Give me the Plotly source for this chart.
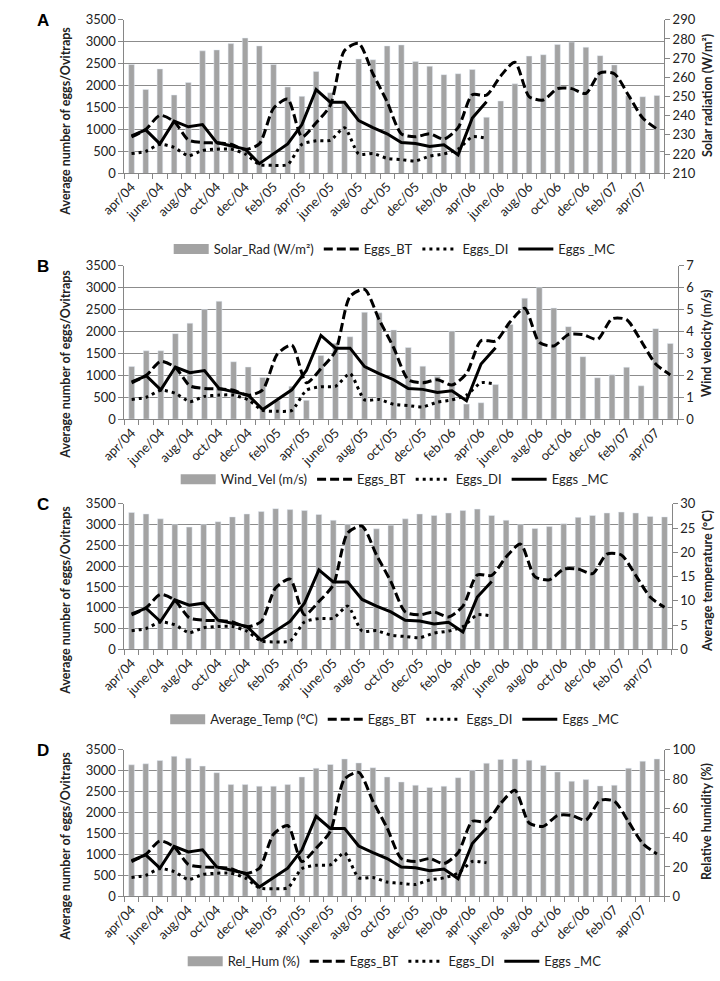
import plotly.graph_objects as go

W, H = 720, 981

months = ["apr/04", "may/04", "june/04", "july/04", "aug/04", "sep/04", "oct/04", "nov/04", "dec/04",
          "jan/05", "feb/05", "mar/05", "apr/05", "may/05", "june/05", "july/05", "aug/05", "sep/05",
          "oct/05", "nov/05", "dec/05", "jan/06", "feb/06", "mar/06", "apr/06", "may/06", "june/06",
          "july/06", "aug/06", "sep/06", "oct/06", "nov/06", "dec/06", "jan/07", "feb/07", "mar/07",
          "apr/07", "may/07"]

# egg counts (same three series in every panel)
eggs_bt = [830, 1000, 1320, 1180, 760, 700, 690, 660, 540, 670, 1480, 1690, 830, 1150, 1550, 2800,
           2960, 2270, 1630, 900, 830, 900, 780, 1040, 1790, 1780, 2220, 2530, 1750, 1670, 1930, 1930,
           1820, 2290, 2270, 1780, 1260, 1010]
eggs_di = [450, 500, 660, 590, 400, 520, 550, 550, 440, 200, 180, 200, 660, 740, 750, 1040, 440, 450,
           340, 310, 280, 390, 440, 550, 830, 800]
eggs_mc = [850, 990, 670, 1190, 1060, 1110, 700, 630, 550, 220, 440, 670, 1110, 1910, 1620, 1620, 1200,
           1040, 900, 700, 680, 610, 650, 420, 1260, 1630]

# climate variables (bars)
solar_rad = [266.7, 253.7, 264.4, 250.8, 257.3, 273.8, 274.3, 277.6, 280.5, 276.4, 266.7, 255.0, 250.1,
             263.1, 252.0, 246.5, 269.6, 269.2, 276.4, 276.9, 268.2, 265.8, 261.4, 261.9, 264.1, 239.2,
             247.7, 256.6, 271.1, 271.8, 277.1, 278.4, 275.7, 271.3, 266.5, 250.4, 249.9, 250.6]
wind_vel = [2.4, 3.12, 3.12, 3.9, 4.38, 5.0, 5.38, 2.62, 2.38, 1.9, 0.85, 1.5, 0.86, 2.9, 3.46, 3.76,
            4.88, 4.85, 4.07, 3.27, 2.42, 1.95, 4.02, 0.69, 0.75, 1.58, 4.32, 5.52, 6.0, 5.07, 4.22, 2.85,
            1.89, 2.03, 2.37, 1.52, 4.13, 3.45]
avg_temp = [28.2, 27.9, 26.9, 25.7, 25.2, 25.7, 26.3, 27.3, 27.9, 28.4, 29.0, 28.8, 28.6, 27.8, 26.6,
            25.7, 25.0, 24.85, 25.6, 26.9, 27.9, 27.6, 28.1, 28.6, 28.9, 27.6, 26.6, 25.7, 24.9, 25.3,
            25.9, 27.2, 27.6, 28.1, 28.3, 28.1, 27.4, 27.3]
rel_hum = [89.7, 90.4, 92.6, 95.5, 94.2, 88.8, 84.3, 76.2, 76.2, 75.1, 75.1, 76.2, 81.4, 87.4, 89.9,
           93.7, 91.0, 87.7, 81.4, 78.0, 75.8, 74.2, 75.1, 80.9, 85.9, 90.8, 93.3, 93.7, 92.8, 89.2,
           84.8, 78.5, 79.6, 75.3, 75.8, 87.4, 92.2, 93.7]

FONT = "Lato"
AX = "#868686"
BAR = "#a3a3a3"

# panel boxes in pixels: left, right, top, bottom
panels = [
    dict(letter="A", bars=solar_rad, bar_name="Solar_Rad (W/m²)", rtitle="Solar radiation (W/m²)",
         rng=[210, 290], dtick=10, box=(103, 662, 12, 168), leg_y=245, ltitle_y=115, rpos=(707, 89)),
    dict(letter="B", bars=wind_vel, bar_name="Wind_Vel (m/s)", rtitle="Wind velocity (m/s)",
         rng=[0, 7], dtick=1, box=(103, 676, 262, 418), leg_y=479, ltitle_y=362, rpos=(706, 340)),
    dict(letter="C", bars=avg_temp, bar_name="Average_Temp (°C)", rtitle="Average temperature (°C)",
         rng=[0, 30], dtick=5, box=(103, 670, 504, 652), leg_y=723, ltitle_y=602, rpos=(707, 582)),
    dict(letter="D", bars=rel_hum, bar_name="Rel_Hum (%)", rtitle="Relative humidity (%)",
         rng=[0, 100], dtick=20, box=(103, 662, 754, 903), leg_y=969, ltitle_y=852, rpos=(706, 827)),
]

xs = list(range(len(months)))
fig = go.Figure()
layout = dict(width=W, height=H, margin=dict(l=0, r=0, t=0, b=0), paper_bgcolor="white",
              plot_bgcolor="rgba(0,0,0,0)", font=dict(family=FONT, size=13, color="#222"),
              bargap=0.6, annotations=[])

for k, p in enumerate(panels, start=1):
    xa = "x" if k == 1 else f"x{k}"
    yb = "y" if k == 1 else f"y{2*k-1}"
    yl = f"y{2*k}"
    leg = "legend" if k == 1 else f"legend{k}"
    l, r, t, b = p["box"]

    fig.add_trace(go.Bar(x=xs, y=p["bars"], name=p["bar_name"], marker_color=BAR,
                         xaxis=xa, yaxis=yb, showlegend=False))
    # wide grey swatch for the bar entry, like the Excel legend
    fig.add_trace(go.Scatter(x=[None], y=[None], name=p["bar_name"], mode="lines", xaxis=xa,
                             yaxis=yb, legend=leg, line=dict(color=BAR, width=10)))
    fig.add_trace(go.Scatter(x=xs, y=eggs_bt, name="Eggs_BT", mode="lines", xaxis=xa, yaxis=yl,
                             legend=leg, line=dict(color="black", width=3, dash="9px,4px",
                                                   shape="spline", smoothing=0.7)))
    fig.add_trace(go.Scatter(x=xs[:len(eggs_di)], y=eggs_di, name="Eggs_DI", mode="lines",
                             xaxis=xa, yaxis=yl, legend=leg,
                             line=dict(color="black", width=3, dash="3px,4px",
                                       shape="spline", smoothing=0.6)))
    fig.add_trace(go.Scatter(x=xs[:len(eggs_mc)], y=eggs_mc, name="Eggs _MC", mode="lines",
                             xaxis=xa, yaxis=yl, legend=leg, line=dict(color="black", width=3)))

    xkey = "xaxis" if k == 1 else f"xaxis{k}"
    ybkey = "yaxis" if k == 1 else f"yaxis{2*k-1}"
    ylkey = f"yaxis{2*k}"
    layout[xkey] = dict(domain=[l / W, r / W], anchor=yb, range=[-0.5, len(months) - 0.5],
                        tickmode="array", tickvals=xs[::2], ticktext=months[::2], tickangle=-45,
                        ticks="", showline=True, linecolor=AX, showgrid=False, zeroline=False,
                        tickfont=dict(size=13),
                        minor=dict(tickmode="array", tickvals=[i - 0.5 for i in range(len(months) + 1)],
                                   ticks="outside", ticklen=5, tickcolor=AX, showgrid=False))
    layout[ybkey] = dict(domain=[1 - b / H, 1 - t / H], anchor=xa, side="right", range=p["rng"],
                         tick0=p["rng"][0], dtick=p["dtick"], showgrid=False, zeroline=False,
                         showline=True, linecolor=AX, ticks="outside", ticklen=5, tickcolor=AX,
                         tickfont=dict(size=13))
    layout[ylkey] = dict(overlaying=yb, anchor=xa, side="left", range=[0, 3500], dtick=500,
                         showgrid=True, gridcolor="#8c8c8c", gridwidth=1, zeroline=False,
                         showline=True, linecolor=AX, ticks="outside", ticklen=5, tickcolor=AX,
                         tickfont=dict(size=13))
    layout[leg] = dict(orientation="h", x=383 / W, xanchor="center", y=1 - p["leg_y"] / H,
                       yanchor="middle", font=dict(size=13), bgcolor="rgba(0,0,0,0)",
                       traceorder="normal", itemwidth=35)

    layout["annotations"] += [
        dict(text=f"<b>{p['letter']}</b>", x=10 / W, y=1 - (t + 1) / H, xref="paper", yref="paper",
             xanchor="left", yanchor="middle", showarrow=False,
             font=dict(family="Liberation Sans", size=17, color="black")),
        dict(text="<b>Average number of eggs/Ovitraps</b>", x=42 / W, y=1 - p["ltitle_y"] / H,
             xref="paper", yref="paper", xanchor="center", yanchor="middle", textangle=-90,
             showarrow=False, font=dict(size=12.5, color="#222")),
        dict(text=f"<b>{p['rtitle']}</b>", x=p["rpos"][0] / W, y=1 - p["rpos"][1] / H,
             xref="paper", yref="paper", xanchor="center", yanchor="middle", textangle=-90,
             showarrow=False, font=dict(size=12.5, color="#222")),
    ]

fig.update_layout(**layout)
fig.write_html("out.html", config={"displayModeBar": False},
               post_script="document.body.style.margin='0';")
